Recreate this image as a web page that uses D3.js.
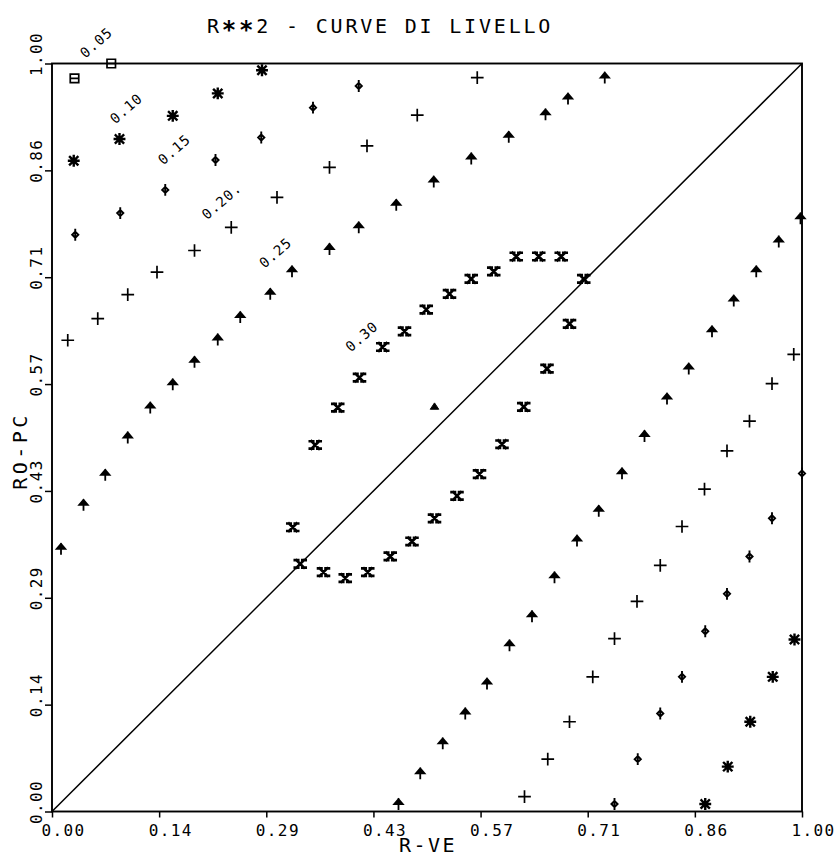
<!DOCTYPE html>
<html>
<head>
<meta charset="utf-8">
<script src="https://cdn.jsdelivr.net/npm/d3@7"></script>
<style>
  html, body { margin: 0; padding: 0; background: #fff; }
  svg { display: block; }
  text { font-family: "DejaVu Sans Mono", monospace; fill: #000; }
</style>
</head>
<body>
<svg id="chart" width="839" height="858"></svg>
<script>
// Axis ticks (sevenths of the unit interval) and their printed labels
const tickValues = [0, 1 / 7, 2 / 7, 3 / 7, 4 / 7, 5 / 7, 6 / 7, 1];
const xTickLabels = ["0.00", "0.14", "0.29", "0.43", "0.57", "0.71", "0.86", "1.00"];
const yTickLabels = ["0.00", "0.14", "0.29", "0.43", "0.57", "0.71", "0.86", "1.00"];

// Contour levels of R**2 and their printed labels
const levelLabels = ["0.05", "0.10", "0.15", "0.20.", "0.25", "0.30"];
// label anchors in data units [R-VE, RO-PC]
const levelLabelAnchors = [[0.059, 1.028], [0.099, 0.940], [0.163, 0.885], [0.226, 0.816], [0.298, 0.747], [0.413, 0.635]];

// Contour points [R-VE, RO-PC] for each level
const level005 = [[0.030, 0.980], [0.079, 1.000]];
const level010 = [
  [0.029, 0.870], [0.090, 0.899], [0.161, 0.930], [0.221, 0.960], [0.280, 0.991],
  [0.871, 0.010], [0.901, 0.060], [0.931, 0.120], [0.961, 0.180], [0.990, 0.230]
];
const level015 = [
  [0.031, 0.771], [0.091, 0.800], [0.151, 0.831], [0.218, 0.871], [0.279, 0.901], [0.348, 0.941], [0.409, 0.970],
  [0.750, 0.010], [0.781, 0.070], [0.811, 0.131], [0.840, 0.180], [0.871, 0.241], [0.900, 0.291], [0.930, 0.341],
  [0.960, 0.392], [1.000, 0.452]
];
const level020 = [
  [0.021, 0.630], [0.061, 0.659], [0.101, 0.691], [0.140, 0.721], [0.190, 0.750], [0.239, 0.781], [0.300, 0.821],
  [0.370, 0.861], [0.420, 0.890], [0.487, 0.931], [0.567, 0.981],
  [0.630, 0.020], [0.661, 0.070], [0.690, 0.120], [0.721, 0.180], [0.750, 0.231], [0.780, 0.281], [0.811, 0.329],
  [0.840, 0.381], [0.870, 0.431], [0.900, 0.482], [0.930, 0.522], [0.960, 0.572], [0.989, 0.611]
];
const level025 = [
  [0.012, 0.351], [0.042, 0.410], [0.071, 0.450], [0.101, 0.500], [0.131, 0.540], [0.161, 0.571], [0.190, 0.601],
  [0.221, 0.631], [0.251, 0.661], [0.291, 0.692], [0.320, 0.722], [0.370, 0.752], [0.409, 0.781], [0.459, 0.811],
  [0.509, 0.842], [0.559, 0.873], [0.609, 0.902], [0.658, 0.932], [0.688, 0.953], [0.737, 0.981],
  [0.462, 0.010], [0.491, 0.051], [0.521, 0.091], [0.551, 0.131], [0.580, 0.171], [0.610, 0.222], [0.640, 0.261],
  [0.670, 0.313], [0.700, 0.362], [0.729, 0.402], [0.760, 0.452], [0.790, 0.502], [0.820, 0.552], [0.849, 0.592],
  [0.880, 0.642], [0.909, 0.683], [0.939, 0.722], [0.969, 0.762], [0.998, 0.793]
];
const level030 = [
  [0.709, 0.712], [0.679, 0.742], [0.649, 0.742], [0.619, 0.742], [0.589, 0.722], [0.559, 0.712], [0.530, 0.692],
  [0.499, 0.671], [0.470, 0.642], [0.441, 0.621], [0.410, 0.580], [0.381, 0.540], [0.351, 0.490], [0.321, 0.380],
  [0.331, 0.331], [0.362, 0.320], [0.391, 0.312], [0.421, 0.320], [0.451, 0.341], [0.480, 0.361], [0.510, 0.392],
  [0.540, 0.422], [0.570, 0.451], [0.600, 0.491], [0.629, 0.541], [0.660, 0.592], [0.690, 0.652]
];
// single highlighted point inside the 0.30 contour
const peakPoint = [[0.510, 0.542]];
// reference line RO-PC = R-VE
const diagonal = [[0, 0], [1, 1]];

// ---------- plotter-style marker shapes ----------
const symSquareBar = { draw(c, s) { const r = Math.sqrt(s) / 2;
  c.moveTo(-r, -r); c.lineTo(r, -r); c.lineTo(r, r); c.lineTo(-r, r); c.closePath();
  c.moveTo(-r, 0); c.lineTo(r, 0); } };
const symAsterisk = { draw(c, s) { const r = Math.sqrt(s) / 2, d = r * 0.8;
  c.moveTo(-r, 0); c.lineTo(r, 0); c.moveTo(0, -r); c.lineTo(0, r);
  c.moveTo(-d, -d); c.lineTo(d, d); c.moveTo(d, -d); c.lineTo(-d, d); } };
const symPhi = { draw(c, s) { const r = Math.sqrt(s) / 2, rc = r * 0.62;
  c.moveTo(0, -rc); c.lineTo(rc, 0); c.lineTo(0, rc); c.lineTo(-rc, 0); c.closePath();
  c.moveTo(0, -r); c.lineTo(0, r); } };
const symPlus = { draw(c, s) { const r = Math.sqrt(s) / 2;
  c.moveTo(-r, 0); c.lineTo(r, 0); c.moveTo(0, -r); c.lineTo(0, r); } };
const symArrow = { draw(c, s) { const r = Math.sqrt(s) / 2;
  c.moveTo(-r * 0.85, 0); c.lineTo(0, -r); c.lineTo(r * 0.85, 0); c.closePath();
  c.moveTo(0, -r); c.lineTo(0, r); } };
const symCross = { draw(c, s) { const r = Math.sqrt(s) / 2, e = r * 0.45;
  c.moveTo(-r, -r); c.lineTo(r, r); c.moveTo(r, -r); c.lineTo(-r, r);
  c.moveTo(-r - e, -r); c.lineTo(-r + e, -r); c.moveTo(r - e, -r); c.lineTo(r + e, -r);
  c.moveTo(-r - e, r); c.lineTo(-r + e, r); c.moveTo(r - e, r); c.lineTo(r + e, r); } };
const symTriangle = { draw(c, s) { const r = Math.sqrt(s) / 2;
  c.moveTo(-r, r * 0.7); c.lineTo(0, -r * 0.8); c.lineTo(r, r * 0.7); c.closePath(); } };

const series = [
  { points: level005, type: symSquareBar, size: 72, width: 1.7, fill: "none" },
  { points: level010, type: symAsterisk, size: 90, width: 2.4, fill: "none" },
  { points: level015, type: symPhi, size: 100, width: 1.9, fill: "none" },
  { points: level020, type: symPlus, size: 121, width: 1.7, fill: "none" },
  { points: level025, type: symArrow, size: 100, width: 1.8, fill: "#000" },
  { points: level030, type: symCross, size: 56, width: 2.7, fill: "none" },
  { points: peakPoint, type: symTriangle, size: 64, width: 1, fill: "#000" }
];

// ---------- layout ----------
const svg = d3.select("#chart");
const x = d3.scaleLinear().domain([0, 1]).range([52, 802]);
const y = d3.scaleLinear().domain([0, 1]).range([811.5, 63.5]);

// frame
svg.append("rect")
  .attr("x", x(0)).attr("y", y(1))
  .attr("width", x(1) - x(0)).attr("height", y(0) - y(1))
  .attr("fill", "none").attr("stroke", "#000").attr("stroke-width", 1.9);

// x axis
const gx = svg.append("g")
  .attr("transform", `translate(0,${y(0)})`)
  .call(d3.axisBottom(x).tickValues(tickValues).tickSize(6).tickSizeOuter(0)
    .tickFormat((d, i) => xTickLabels[i]));
gx.select(".domain").remove();
gx.selectAll(".tick line").attr("stroke", "#000").attr("stroke-width", 1.5);
gx.selectAll(".tick text")
  .attr("text-anchor", "start").attr("x", -11).attr("y", 24).attr("dy", 0)
  .style("font-size", "16px").style("letter-spacing", "1.4px")
  .style("font-family", "'DejaVu Sans Mono', monospace").attr("fill", "#000");

// y axis
const gy = svg.append("g")
  .attr("transform", `translate(${x(0)},0)`)
  .call(d3.axisLeft(y).tickValues(tickValues).tickSize(7).tickSizeOuter(0)
    .tickFormat((d, i) => yTickLabels[i]));
gy.select(".domain").remove();
gy.selectAll(".tick line").attr("stroke", "#000").attr("stroke-width", 1.5);
gy.selectAll(".tick text")
  .attr("transform", "rotate(-90)")
  .attr("text-anchor", "start").attr("x", -12).attr("y", -10).attr("dy", 0)
  .style("font-size", "16px").style("letter-spacing", "1.4px")
  .style("font-family", "'DejaVu Sans Mono', monospace").attr("fill", "#000");

// diagonal
svg.append("path")
  .datum(diagonal)
  .attr("d", d3.line().x(d => x(d[0])).y(d => y(d[1])))
  .attr("fill", "none").attr("stroke", "#000").attr("stroke-width", 1.5);

// contour markers
series.forEach(s => {
  const sym = d3.symbol().type(s.type).size(s.size);
  svg.append("g").selectAll("path")
    .data(s.points)
    .join("path")
    .attr("transform", d => `translate(${x(d[0])},${y(d[1])})`)
    .attr("d", sym)
    .attr("fill", s.fill)
    .attr("stroke", "#000")
    .attr("stroke-width", s.width)
    .attr("stroke-linecap", "square");
});

// level labels
svg.append("g").selectAll("text")
  .data(levelLabels)
  .join("text")
  .attr("transform", (d, i) => `translate(${x(levelLabelAnchors[i][0])},${y(levelLabelAnchors[i][1])}) rotate(-41)`)
  .attr("text-anchor", "middle")
  .attr("dy", "0.35em")
  .style("font-size", "14px")
  .style("letter-spacing", "1px")
  .text(d => d);

// title
const title = svg.append("text")
  .attr("x", 207).attr("y", 33)
  .style("font-size", "20px")
  .style("letter-spacing", "2.8px");
title.append("tspan").text("R");
title.append("tspan").attr("dy", 5).style("font-size", "24px").style("font-weight", "bold").text("**");
title.append("tspan").attr("dy", -5).text("2 - CURVE DI LIVELLO");

// axis titles
svg.append("text")
  .attr("x", 428).attr("y", 852)
  .attr("text-anchor", "middle")
  .style("font-size", "20px").style("letter-spacing", "2.4px")
  .text("R-VE");
svg.append("text")
  .attr("transform", "translate(27,451) rotate(-90)")
  .attr("text-anchor", "middle")
  .style("font-size", "20px").style("letter-spacing", "3.5px")
  .text("RO-PC");
</script>
</body>
</html>
